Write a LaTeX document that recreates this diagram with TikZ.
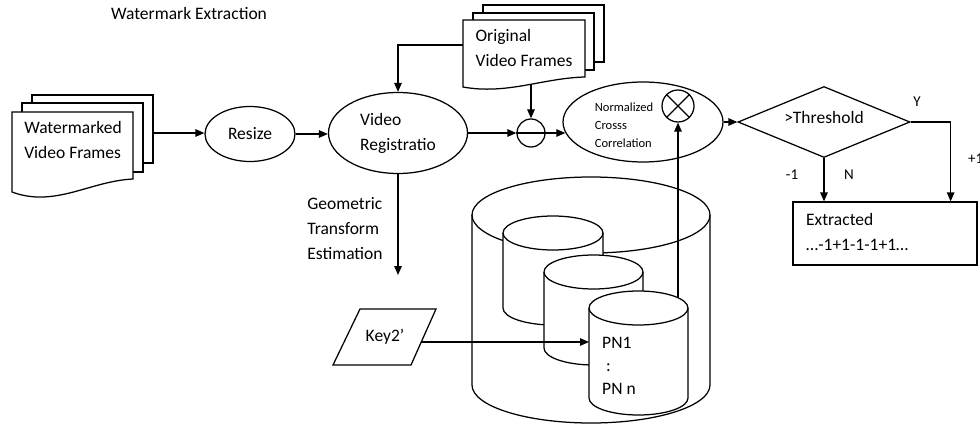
\documentclass[tikz,border=0pt]{standalone}
\usepackage{fontspec}
\setmainfont{Carlito}
\usetikzlibrary{shapes.geometric,arrows.meta,calc}
\newcommand{\mycylinder}[5]{%
  \draw[ln, fill=white] ({#1-#2},{-#3}) -- ({#1-#2},{-#4})
    arc[start angle=180, end angle=360, x radius=#2, y radius=#5]
    -- ({#1+#2},{-#3})
    arc[start angle=0, end angle=180, x radius=#2, y radius=#5] -- cycle;
  \draw[ln] ({#1-#2},{-#3}) arc[start angle=180, end angle=360, x radius=#2, y radius=#5];
}
\begin{document}
\begin{tikzpicture}[x=1pt,y=1pt,
  ln/.style={line width=1.25pt},
  arr/.style={ln,-{Triangle[length=9pt,width=7.5pt]}},
  txt/.style={font=\fontsize{17.5}{25}\selectfont, inner sep=0pt, align=left},
  small/.style={font=\fontsize{12.5}{18}\selectfont, inner sep=0pt, align=left},
  lab/.style={font=\fontsize{15}{18}\selectfont, inner sep=0pt},
  ell/.style={ellipse, draw, ln, inner sep=0pt, fill=white},
  page/.style={draw, ln, fill=white}
]
\useasboundingbox (0,0) rectangle (980,-425);

\node[txt] (title) at (189,-13) {Watermark Extraction};

% Watermarked video frames
\draw[page] (32,-95) rectangle (153,-163);
\draw[page] (22,-103) rectangle (143,-172);
\draw[page] (12,-112) -- (133,-112) -- (133,-179) .. controls (90,-181) and (55,-208) .. (12,-192) -- cycle;
\node[txt] (wdoc) at (73,-140) {Watermarked\\Video Frames};
\coordinate (wdocR) at (153,-133);

% Resize
\node[ell, txt, minimum width=90, minimum height=55] (resize) at (250,-134) {Resize};
\draw[arr] (wdocR) -- (wdocR -| resize.west);

% Video registration
\node[ell, txt, minimum width=139, minimum height=81] (vreg) at (398,-133) {Video\\Registratio};
\draw[arr] (resize.east) -- (resize.east -| vreg.west);

% Original video frames
\draw[page] (483,-5) rectangle (604,-62);
\draw[page] (473,-13) rectangle (594,-70);
\draw[page] (463,-20) -- (585,-20) -- (585,-77) .. controls (543,-78) and (507,-95) .. (463,-87) -- cycle;
\node[txt] (odoc) at (524,-48) {Original\\Video Frames};
\coordinate (odocL) at (463,-45);
\coordinate (odocB) at (531,-84);
\draw[arr] (odocL) -| (vreg.north);

% minus
\node[circle, draw, ln, minimum size=28, inner sep=0pt] (minus) at (531,-133) {};
\draw[ln] (minus.west) -- (minus.east);
\draw[arr] (odocB) -- (minus.north);
\draw[arr] (vreg.east) -- (vreg.east -| minus.west);

% NCC
\node[ell, minimum width=160, minimum height=80] (ncc) at (643,-122) {};
\node[small] (ncctxt) at (624,-125) {Normalized\\Crosss\\Correlation};
\draw[arr] (minus.east) -- (minus.east -| ncc.188);
\node[circle, draw, ln, minimum size=32, inner sep=0pt] (ot) at (678,-106) {};
\draw[ln] (ot.45) -- (ot.225) (ot.135) -- (ot.315);

% threshold
\node[diamond, draw, ln, minimum width=172, minimum height=71, inner sep=0pt] (thr) at (824,-122) {};
\node[txt] (thrtxt) at (824,-117) {>Threshold};
\draw[arr] (ncc.east) -- (thr.west);

% extracted box
\node[draw, ln, minimum width=184, minimum height=63, inner sep=0pt] (box) at (885,-233.5) {};
\node[txt, anchor=west] (boxtxt) at (806,-232) {Extracted\\…-1+1-1-1+1…};
\draw[arr] (thr.east) -| ([xshift=-27pt]box.north east);
\draw[arr] (thr.south) -- (thr.south |- box.north);
\node[lab] (lY) at (917,-102) {Y};
\node[lab, anchor=west] (lP1) at (968,-159) {+1};
\node[lab] (lM1) at (792,-175) {-1};
\node[lab] (lN) at (849,-175) {N};

% geometric transform
\coordinate (gte) at (398,-275);
\draw[arr] (vreg.south) -- (gte);
\node[txt] (geo) at (345,-229) {Geometric\\Transform\\Estimation};

% Key2'
\draw[ln] (360,-309) -- (436,-309) -- (411,-365) -- (333,-365) -- cycle;
\node[txt] (key) at (385,-337) {Key2’};
\coordinate (keyR) at (421,-342);

% cylinders
\mycylinder{591}{119}{215}{385}{38}
\mycylinder{553}{50}{233}{308}{17}
\mycylinder{593.5}{49.5}{272}{348}{17}
\mycylinder{638.5}{49.5}{308}{398}{17}
\node[txt, anchor=west, font=\fontsize{17.5}{23}\selectfont] (pn) at (602,-366) {PN1\\\hspace*{4pt}:\\PN n};
\coordinate (c3L) at (589,-342);
\coordinate (c3T) at (678,-297);
\draw[arr] (keyR) -- (c3L);
\draw[arr] (c3T) -- (ot.south);
\end{tikzpicture}
\end{document}
